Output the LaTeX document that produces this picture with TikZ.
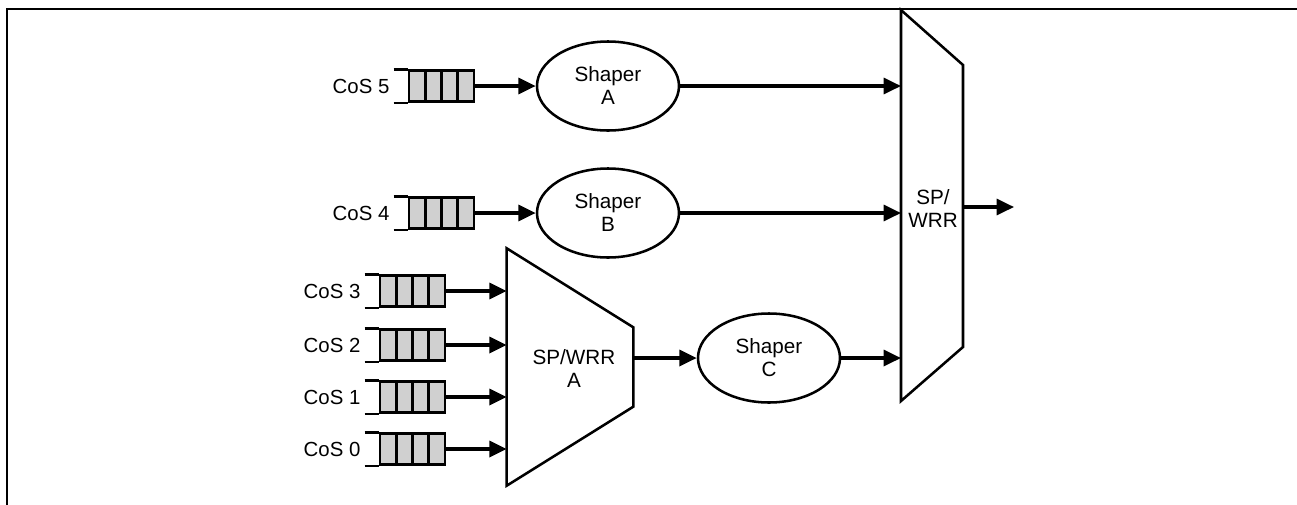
\documentclass[tikz,border=0pt]{standalone}
\usepackage{fontspec}
\setmainfont{Liberation Sans}
\usetikzlibrary{arrows.meta,shapes.geometric}
\definecolor{cellgray}{RGB}{208,208,208}
\newcommand\myqueue[4]{%
  \node[qcellbox] (#1) at (#2+32.5,#3) {};
  \foreach \i in {1,2,3}{\draw[qline] (#2+\i*16.25,#3-15.5) -- (#2+\i*16.25,#3+15.5);}
  \draw[qline] ([xshift=-10.5pt]#1.north west) -- (#1.north west);
  \draw[qline] ([xshift=-10.5pt]#1.south west) -- (#1.south west);
  \node[coslab,anchor=east] (#1lab) at ([xshift=-13.5pt]#1.west) {#4};
}
\begin{document}
\begin{tikzpicture}[x=0.75pt,y=-0.75pt,
  arr/.style={line width=2.5pt,-{Triangle[length=13pt,width=12pt]}},
  qline/.style={line width=2pt},
  qcellbox/.style={rectangle,draw,fill=cellgray,line width=2pt,minimum width=48.75pt,minimum height=23.25pt,inner sep=0pt},
  coslab/.style={inner sep=0pt,font=\fontsize{15.3}{17.25}\selectfont},
  shaper/.style={ellipse,draw,line width=1.9pt,minimum width=106.5pt,minimum height=66.75pt,inner sep=0pt,align=center,font=\fontsize{15.5}{17.25}\selectfont},
  muxline/.style={line width=1.9pt,fill=white,line join=miter},
  muxtxt/.style={inner sep=0pt,align=center,font=\fontsize{15.5}{17.25}\selectfont}]
\useasboundingbox (0,0) rectangle (1297,504);
% frame
\draw[line width=2pt] (7,510) -- (7,9) -- (1300,9);
% queues
\myqueue{q5}{409}{86}{CoS 5}
\myqueue{q4}{409}{213}{CoS 4}
\myqueue{q3}{380}{291}{CoS 3}
\myqueue{q2}{380}{345}{CoS 2}
\myqueue{q1}{380}{397}{CoS 1}
\myqueue{q0}{380}{449}{CoS 0}
% shapers
\node[shaper] (shA) at (608,86) {Shaper\\A};
\node[shaper] (shB) at (608,213) {Shaper\\B};
\node[shaper] (shC) at (769,358) {Shaper\\C};
% big mux
\coordinate (M1nw) at (901,10);
\coordinate (M1ne) at (963,65);
\coordinate (M1se) at (963,347);
\coordinate (M1sw) at (901,401);
\draw[muxline] (M1nw) -- (M1ne) -- (M1se) -- (M1sw) -- cycle;
\node[muxtxt] (M1txt) at (933,209) {SP/\\WRR};
\coordinate (M1out) at (963,207);
\coordinate (outend) at (1014,207);
% small mux
\coordinate (M2nw) at (506.7,248.3);
\coordinate (M2ne) at (633.3,327.3);
\coordinate (M2se) at (633.3,406.7);
\coordinate (M2sw) at (506.7,485.7);
\draw[muxline] (M2nw) -- (M2ne) -- (M2se) -- (M2sw) -- cycle;
\node[muxtxt] (M2txt) at (574,369) {SP/WRR\\A};
\coordinate (M2out) at (633.3,358);
% connectors
\draw[arr] (q5.east) -- (shA.west);
\draw[arr] (q4.east) -- (shB.west);
\foreach \q in {q3,q2,q1,q0}{\draw[arr] (\q.east) -- (\q.east -| M2nw);}
\draw[arr] (M2out) -- (shC.west);
\draw[arr] (shA.east) -- (shA.east -| M1nw);
\draw[arr] (shB.east) -- (shB.east -| M1nw);
\draw[arr] (shC.east) -- (shC.east -| M1nw);
\draw[arr] (M1out) -- (outend);
\end{tikzpicture}
\end{document}
